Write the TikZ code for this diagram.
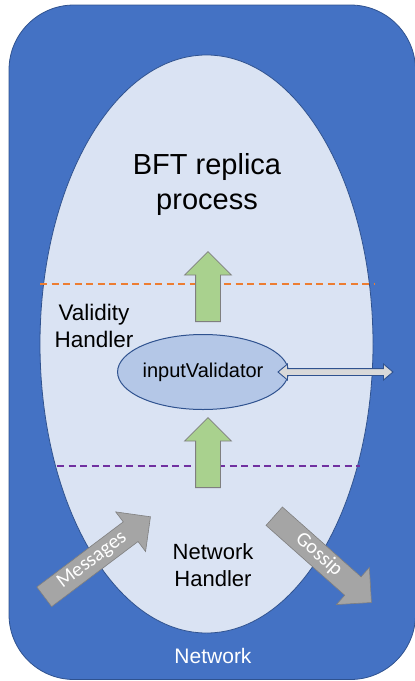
\documentclass[tikz,border=0pt]{standalone}
\usepackage{fontspec}
\setmainfont{Liberation Sans}
\newfontfamily\arrowfont{Carlito}
\usetikzlibrary{shapes.arrows,shapes.geometric}
\definecolor{netblue}{HTML}{4472C4}
\definecolor{netedge}{HTML}{2F528F}
\definecolor{procfill}{HTML}{DAE3F3}
\definecolor{valfill}{HTML}{B4C7E7}
\definecolor{greenfill}{HTML}{A9D18E}
\definecolor{grayfill}{HTML}{A5A5A5}
\definecolor{grayedge}{HTML}{7F7F7F}
\definecolor{lightgray}{HTML}{D9D9D9}
\definecolor{orangeline}{HTML}{ED7D31}
\definecolor{purpleline}{HTML}{7030A0}
\begin{document}
\begin{tikzpicture}[x=1pt,y=-1pt,
  uparrow/.style={single arrow, draw=grayedge, fill=greenfill, line width=0.8pt,
    minimum height=70pt, inner xsep=0pt, inner ysep=12pt, single arrow head extend=11pt,
    single arrow tip angle=90, rotate=90, anchor=tail},
  grayarrow/.style={single arrow, draw=grayedge, fill=grayfill, line width=0.6pt,
    text=white, font=\arrowfont\fontsize{20.5}{20.5}\selectfont,
    text height=13pt, text depth=4pt, inner ysep=3.5pt, inner xsep=2pt,
    single arrow head extend=12.5pt, single arrow tip angle=90, anchor=tail},
  label/.style={align=center, text=black},
  divider/.style={dashed, line width=2pt, dash pattern=on 7pt off 4.5pt}
]
\useasboundingbox (0,0) rectangle (415,681);
% outer network box
\draw[fill=netblue, draw=netedge, line width=0.8pt, rounded corners=65pt]
  (9,5) rectangle (415.5,679.5);
% process ellipse
\node[ellipse, draw=netedge, fill=procfill, line width=0.8pt,
  minimum width=333pt, minimum height=578pt, inner sep=0pt] (proc) at (206.5,344) {};
% title
\node[label, font=\fontsize{29}{35}\selectfont] (title) at (207,184) {BFT replica\\process};
% dashed dividers
\coordinate (oL) at (40,284);
\coordinate (oR) at (375,284);
\draw[divider, orangeline] (oL) -- (oR);
\coordinate (pL) at (57,466);
\coordinate (pR) at (360,466);
\draw[divider, purpleline] (pL) -- (pR);
% green arrows
\node[uparrow] (up1) at (208,322) {};
\node[uparrow] (up2) at (208,488) {};
% validity handler
\node[label, font=\fontsize{22.5}{27}\selectfont] (vh) at (94,326) {Validity\\Handler};
% input validator
\node[ellipse, draw=netedge, fill=valfill, line width=1pt, minimum width=146pt,
  minimum height=75pt, inner sep=0pt, font=\fontsize{20}{24}\selectfont] (iv) at (203,372) {inputValidator};
% double arrow
\node[double arrow, draw=netedge, fill=lightgray, line width=0.9pt, minimum height=115pt,
  inner xsep=0pt, inner ysep=3pt, double arrow head extend=4.5pt, double arrow tip angle=80]
  (link) at (335.5,372) {};
% network handler
\node[label, font=\fontsize{22}{27}\selectfont] (nh) at (213,565) {Network\\Handler};
% gray arrows
\node[grayarrow, minimum height=133pt, rotate=37] (msg) at (44,597) {Messages};
\node[grayarrow, minimum height=130pt, rotate=-41.6] (gos) at (274,516) {Gossip};
% network label
\node[text=white, font=\fontsize{21}{25}\selectfont] (net) at (213,656) {Network};
\end{tikzpicture}
\end{document}
